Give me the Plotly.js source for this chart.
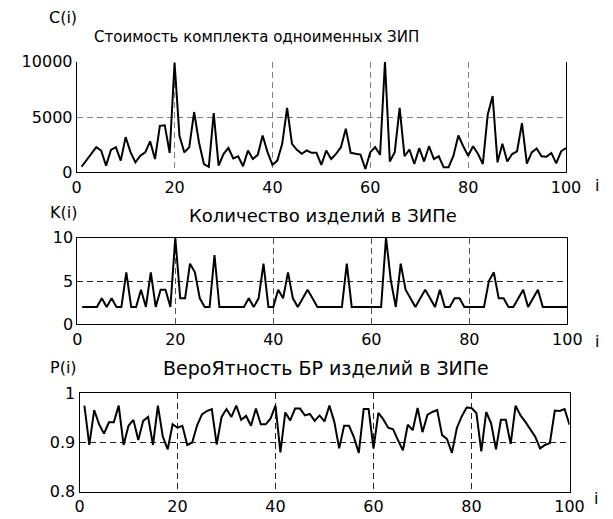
<!DOCTYPE html>
<html>
<head>
<meta charset="utf-8">
<script src="https://cdn.plot.ly/plotly-3.0.1.min.js"></script>
<style>html,body{margin:0;padding:0;background:#fff;}#chart{width:613px;height:519px;}</style>
</head>
<body>
<div id="chart"></div>
<script>
// ---- data ----
const indexI = [];
for (let k = 1; k <= 100; k++) indexI.push(k);

const costC = [
  500, 1100, 1700, 2270, 1970, 600, 2030, 2270, 1060, 3180,
  1820, 900, 1500, 1800, 2800, 1200, 4200, 4250, 1750, 9900,
  3300, 1800, 2270, 5450, 2700, 750, 500, 5350, 600, 1650,
  2200, 1250, 1450, 550, 1970, 1200, 1580, 3330, 1820, 670,
  1060, 2580, 5820, 2580, 2030, 1670, 1970, 1760, 1760, 670,
  1970, 1200, 1670, 2270, 3940, 1760, 1670, 1600, 300, 1820,
  2270, 1580, 10000, 970, 1820, 5820, 1450, 2060, 750, 2180,
  970, 2360, 1200, 1450, 450, 450, 1500, 3330, 2360, 1500,
  2360, 1670, 750, 5200, 6900, 900, 2580, 970, 1650, 1900,
  4450, 780, 1800, 2150, 1450, 1400, 1750, 800, 1900, 2200
];

const countK = [
  2, 2, 2, 2, 3, 2, 3, 2, 2, 6,
  2, 2, 4, 2, 6, 2, 4, 4, 2, 10,
  3, 3, 7, 6, 3, 2, 2, 8, 2, 2,
  2, 2, 2, 2, 3, 2, 3, 7, 2, 2,
  4, 3, 6, 3, 2, 3, 4, 3, 2, 2,
  2, 2, 2, 2, 7, 2, 2, 2, 2, 2,
  2, 2, 10, 5, 2, 7, 4, 3, 2, 3,
  4, 3, 2, 4, 2, 2, 3, 3, 2, 2,
  2, 2, 2, 5, 6, 3, 3, 2, 2, 3,
  4, 2, 3, 4, 2, 2, 2, 2, 2, 2
];

const probP = [
  0.975, 0.895, 0.966, 0.937, 0.918, 0.941, 0.941, 0.975, 0.895, 0.934,
  0.946, 0.905, 0.944, 0.952, 0.895, 0.975, 0.912, 0.886, 0.937, 0.930,
  0.934, 0.895, 0.900, 0.935, 0.957, 0.964, 0.968, 0.896, 0.952, 0.968,
  0.952, 0.975, 0.946, 0.954, 0.934, 0.969, 0.937, 0.937, 0.949, 0.975,
  0.880, 0.961, 0.945, 0.969, 0.969, 0.955, 0.958, 0.944, 0.955, 0.943,
  0.975, 0.942, 0.888, 0.934, 0.934, 0.911, 0.879, 0.968, 0.968, 0.888,
  0.960, 0.947, 0.930, 0.927, 0.905, 0.884, 0.936, 0.925, 0.970, 0.921,
  0.956, 0.962, 0.966, 0.915, 0.907, 0.879, 0.929, 0.953, 0.971, 0.970,
  0.960, 0.882, 0.962, 0.939, 0.886, 0.946, 0.946, 0.897, 0.975, 0.955,
  0.942, 0.928, 0.912, 0.888, 0.895, 0.899, 0.965, 0.964, 0.968, 0.936
];

const xTicks = [0, 20, 40, 60, 80, 100];
const yTicksC = [0, 5000, 10000];
const yTickTextC = ['0', '5000', '10000'];
const yTicksK = [0, 5, 10];
const yTicksP = [0.8, 0.9, 1];
const yTickTextP = ['0.8', '0.9', '1'];

const titleC = 'Стоимость комплекта одноименных ЗИП';
const titleK = 'Количество изделий в ЗИПе';
const titleP = 'ВероЯтность БР изделий в ЗИПе';
const labelC = 'C(i)', labelK = 'K(i)', labelP = 'P(i)', labelX = 'i';

// ---- layout helpers ----
const W = 613, H = 519;
const px = v => v / W;
const py = v => 1 - v / H;
const FONT = 'DejaVu Sans, Verdana, sans-serif';
const tickFont = {family: FONT, size: 16, color: '#000'};

function xAx(l, r, anchor, gridColor) {
  return {
    domain: [px(l), px(r)], anchor: anchor, range: [0, 100],
    tickvals: xTicks, ticks: '', showline: true, linecolor: '#000', linewidth: 1,
    mirror: true, showgrid: true, gridcolor: gridColor, griddash: '6px,4px', gridwidth: 1,
    zeroline: false, tickfont: tickFont, fixedrange: true
  };
}
function yAx(t, b, anchor, range, vals, text, gridColor) {
  const a = {
    domain: [py(b), py(t)], anchor: anchor, range: range,
    tickvals: vals, ticks: '', showline: true, linecolor: '#000', linewidth: 1,
    mirror: true, showgrid: true, gridcolor: gridColor, griddash: '6px,4px', gridwidth: 1,
    zeroline: false, tickfont: tickFont, fixedrange: true
  };
  if (text) a.ticktext = text;
  return a;
}

const lineStyle = {color: '#000', width: 2};
const traces = [
  {x: indexI, y: costC, type: 'scatter', mode: 'lines', line: lineStyle, xaxis: 'x', yaxis: 'y', hoverinfo: 'skip'},
  {x: indexI, y: countK, type: 'scatter', mode: 'lines', line: lineStyle, xaxis: 'x2', yaxis: 'y2', hoverinfo: 'skip'},
  {x: indexI, y: probP, type: 'scatter', mode: 'lines', line: lineStyle, xaxis: 'x3', yaxis: 'y3', hoverinfo: 'skip'}
];

function ann(text, x, y, xanchor, size) {
  return {text: text, xref: 'paper', yref: 'paper', x: px(x), y: py(y),
    xanchor: xanchor || 'center', yanchor: 'middle', showarrow: false,
    font: {family: FONT, size: size || 16, color: '#000'}};
}

const xg1 = xAx(76.7, 566, 'y', '#808080');
xg1.mirror = false;

const layout = {
  width: W, height: H,
  margin: {l: 0, r: 0, t: 0, b: 0},
  paper_bgcolor: '#fff', plot_bgcolor: '#fff',
  showlegend: false,
  xaxis: xg1,
  yaxis: yAx(61.7, 172.3, 'x', [0, 10000], yTicksC, yTickTextC, '#808080'),
  xaxis2: xAx(77.3, 567.3, 'y2', '#555'),
  yaxis2: yAx(237.7, 324.3, 'x2', [0, 10], yTicksK, null, '#222'),
  xaxis3: xAx(79.5, 569.5, 'y3', '#222'),
  yaxis3: yAx(393.3, 491.7, 'x3', [0.8, 1], yTicksP, yTickTextP, '#222'),
  annotations: [
    ann(labelC, 79, 18, 'right'),
    ann(titleC, 256, 37, 'center', 15),
    ann(labelK, 79, 213, 'right'),
    ann(titleK, 323, 215, 'center', 18),
    ann(labelP, 79, 367, 'right'),
    ann(titleP, 326, 368, 'center', 19),
    ann(labelX, 597, 185),
    ann(labelX, 597, 341),
    ann(labelX, 596, 498)
  ]
};

Plotly.newPlot('chart', traces, layout, {staticPlot: true, displayModeBar: false});
</script>
</body>
</html>
